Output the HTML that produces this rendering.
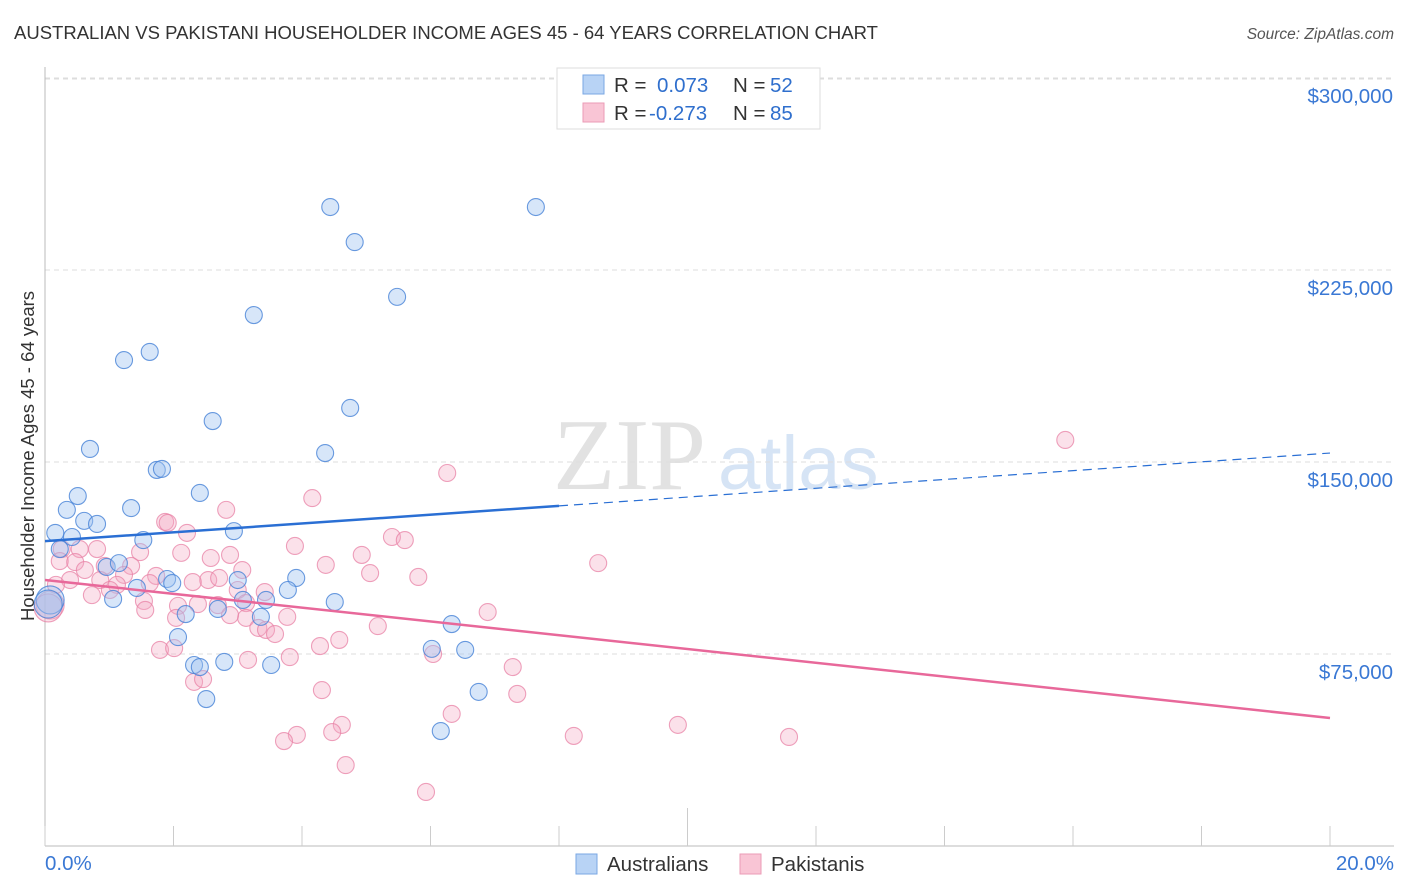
<!DOCTYPE html>
<html><head><meta charset="utf-8"><style>
body{margin:0;background:#fff;font-family:"Liberation Sans",sans-serif;}
svg{display:block}
</style></head><body>
<svg id="chart" width="1406" height="892" xmlns="http://www.w3.org/2000/svg">
<text x="14" y="39" font-size="18.5" fill="#333">AUSTRALIAN VS PAKISTANI HOUSEHOLDER INCOME AGES 45 - 64 YEARS CORRELATION CHART</text>
<text x="1394" y="39" font-size="15.5" font-style="italic" fill="#555" text-anchor="end">Source: ZipAtlas.com</text>
<g>
<text x="553" y="489" font-family="Liberation Serif,serif" font-size="102" fill="#e2e2e2">ZIP</text>
<text x="718" y="489" font-size="76" fill="#d6e4f5">atlas</text>
</g>
<g id="grid"></g>
<g id="axes"></g>
<g id="marks"></g>
<text transform="translate(34,456) rotate(-90)" font-size="18.5" fill="#333" text-anchor="middle">Householder Income Ages 45 - 64 years</text>
<g>
<rect x="557" y="68" width="263" height="61" fill="#fff" stroke="#ddd"/>
<rect x="583" y="75" width="21" height="19" fill="#b8d3f5" stroke="#7aa7e3"/>
<rect x="583" y="103" width="21" height="19" fill="#f9c5d5" stroke="#eb9bb6"/>
<text x="614" y="92" font-size="20.5" fill="#333">R =</text>
<text x="657" y="92" font-size="20.5" fill="#2f6fcd">0.073</text>
<text x="733" y="92" font-size="20.5" fill="#333">N =</text>
<text x="770" y="92" font-size="20.5" fill="#2f6fcd">52</text>
<text x="614" y="120" font-size="20.5" fill="#333">R =</text>
<text x="649" y="120" font-size="20.5" fill="#2f6fcd">-0.273</text>
<text x="733" y="120" font-size="20.5" fill="#333">N =</text>
<text x="770" y="120" font-size="20.5" fill="#2f6fcd">85</text>
</g>
<g>
<rect x="576" y="854" width="21" height="20" fill="#b8d3f5" stroke="#7aa7e3"/>
<text x="607" y="871" font-size="20.5" fill="#333">Australians</text>
<rect x="740" y="854" width="21" height="20" fill="#f9c5d5" stroke="#eb9bb6"/>
<text x="771" y="871" font-size="20.5" fill="#333">Pakistanis</text>
</g>
</svg>
<script>
const xTicksPct=[0,2,4,6,8,10,12,14,16,18,20];
const yTicks=[75000,150000,225000,300000];
const yTickLabels=["$75,000","$150,000","$225,000","$300,000"];
const ausX=[4.44,7.64,4.82,5.48,3.25,1.63,1.23,4.75,2.61,4.36,0.70,1.74,1.82,2.41,0.51,1.34,0.34,0.61,0.81,2.94,0.16,0.42,1.53,0.23,0.96,1.15,1.90,1.98,3.00,3.91,3.78,1.43,1.06,3.08,3.44,4.51,2.69,2.19,3.36,6.33,2.07,6.02,6.54,2.32,2.41,2.79,3.52,6.75,2.51,6.16,0.08,0.05];
const ausY=[249.6,249.6,235.9,214.5,207.4,193.0,189.8,171.1,166.0,153.5,155.1,146.9,147.3,137.9,136.7,132.0,131.3,127.0,125.8,123.0,122.3,120.7,119.5,116.0,109.0,110.5,104.3,102.7,103.9,104.7,100.0,100.8,96.5,96.1,96.1,95.3,92.6,90.6,89.5,86.7,81.6,77.0,76.6,70.7,69.9,71.9,70.7,60.2,57.4,44.9,96.1,94.5];
const pakX=[15.88,6.26,4.16,2.82,1.87,1.91,2.21,5.40,5.60,3.89,0.26,0.54,0.81,1.48,2.12,4.93,2.88,2.58,0.23,0.47,8.61,4.37,1.34,0.93,3.07,5.06,1.23,5.81,1.73,2.54,2.71,2.30,0.39,0.86,1.12,1.63,3.00,0.17,1.54,3.13,2.69,2.07,2.38,6.89,3.13,2.04,3.77,1.56,3.32,5.18,3.44,3.58,4.58,4.28,1.79,2.01,3.81,6.04,3.16,7.28,2.32,2.46,4.31,7.35,6.33,9.85,4.62,4.47,3.92,8.23,11.58,3.72,4.68,5.93,0.08,0.05,0.62,1.01,0.73,3.42,2.88];
const pakY=[158.6,145.7,135.9,131.3,126.6,126.2,122.3,120.7,119.5,117.2,116.0,116.0,116.0,114.8,114.5,113.7,113.7,112.5,111.3,110.9,110.5,109.8,109.4,109.4,107.8,106.6,105.9,105.1,105.5,103.9,104.7,103.1,103.9,103.9,102.0,102.7,100.0,102.0,95.7,94.9,94.1,93.8,94.5,91.4,89.1,89.1,89.5,92.2,85.2,85.9,84.4,82.8,80.5,78.1,76.6,77.3,73.8,75.0,72.7,69.9,64.1,65.2,60.9,59.4,51.6,47.3,47.3,44.5,43.4,43.0,42.6,41.0,31.6,21.1,94.1,93.0,107.8,100.0,98.0,99.2,90.2];
const ausTrend=[119.1,153.5];
const pakTrend=[103.9,50.0];
const NS="http://www.w3.org/2000/svg";
const X=p=>45+p*64.25;
const Y=v=>846-v/75000*192;
function mk(tag,attrs,parent){const e=document.createElementNS(NS,tag);for(const k in attrs)e.setAttribute(k,attrs[k]);parent.appendChild(e);return e;}
const grid=document.getElementById('grid'),axes=document.getElementById('axes'),marks=document.getElementById('marks');
mk('line',{x1:45,y1:79,x2:1394,y2:79,stroke:'#ddd','stroke-dasharray':'5,4'},grid);
yTicks.forEach((t,i)=>{
 const g=mk('line',{x1:45,y1:Y(t),x2:1394,y2:Y(t),stroke:'#ddd','stroke-dasharray':'5,4'},grid);
 
 
 const l=mk('text',{x:1393,y:Y(t)+25,'font-size':20.5,fill:'#3a78d4','text-anchor':'end'},axes);
 l.textContent=yTickLabels[i];
 
 
});
mk('line',{x1:45,y1:67,x2:45,y2:846,stroke:'#bbb'},axes);
mk('line',{x1:45,y1:846,x2:1394,y2:846,stroke:'#bbb'},axes);
xTicksPct.forEach(p=>{
 const t=mk('line',{x1:X(p),y1:p===10?808:826,x2:X(p),y2:846,stroke:'#ccc'},axes);
 
 
});
const xl0=mk('text',{x:45,y:870,'font-size':20.5,fill:'#3a78d4'},axes);xl0.textContent='0.0%';


const xl1=mk('text',{x:1394,y:870,'font-size':20.5,fill:'#3a78d4','text-anchor':'end'},axes);xl1.textContent='20.0%';


function pts(xs,ys,fill,stroke,name){xs.forEach((x,i)=>{const big=(name==='australian-point'&&i>=xs.length-2)||(name==='pakistani-point'&&(i===74||i===75));
 const c=mk('circle',{cx:X(x),cy:Y(ys[i]*1000),r:big?14:8.5,fill:fill,stroke:stroke,'stroke-width':1.1},marks);
 
 });}
pts(pakX,pakY,'rgba(244,170,195,0.35)','rgba(232,130,165,0.75)','pakistani-point');
pts(ausX,ausY,'rgba(160,196,240,0.42)','rgba(70,130,215,0.8)','australian-point');
const bx=8;const by=ausTrend[0]+(ausTrend[1]-ausTrend[0])*bx/20;
const l1=mk('line',{x1:X(0),y1:Y(ausTrend[0]*1000),x2:X(bx),y2:Y(by*1000),stroke:'#2a6fd4','stroke-width':2.5},marks);


const l2=mk('line',{x1:X(bx),y1:Y(by*1000),x2:X(20),y2:Y(ausTrend[1]*1000),stroke:'#2a6fd4','stroke-width':1.2,'stroke-dasharray':'9,6'},marks);


const l3=mk('line',{x1:X(0),y1:Y(pakTrend[0]*1000),x2:X(20),y2:Y(pakTrend[1]*1000),stroke:'#e8689a','stroke-width':2.5},marks);


</script>
</body></html>
